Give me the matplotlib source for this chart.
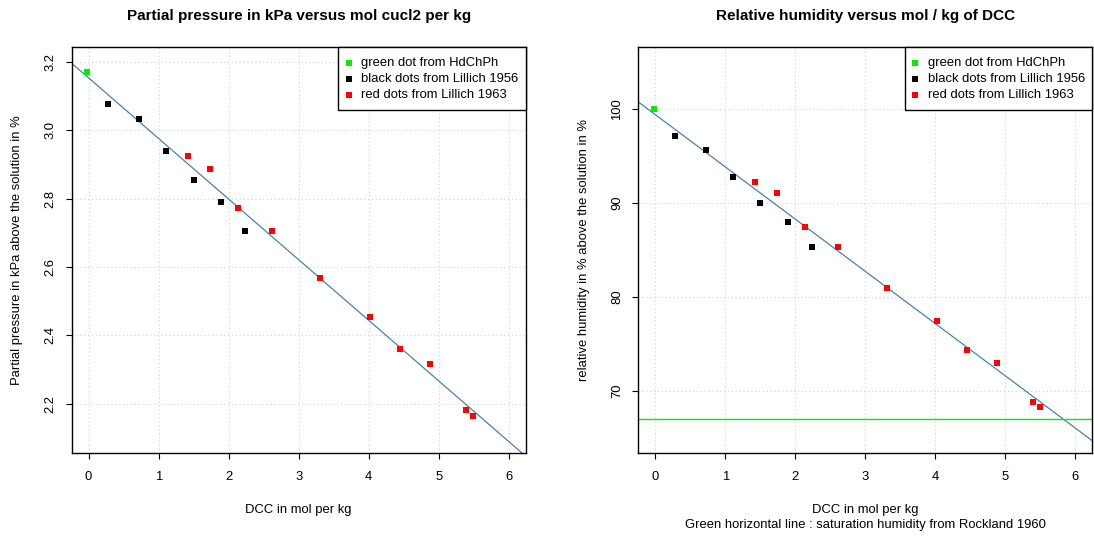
import matplotlib
matplotlib.use("Agg")
import matplotlib.pyplot as plt
from matplotlib.lines import Line2D
from matplotlib.patches import Rectangle

plt.rcParams['font.family'] = ['Liberation Sans', 'DejaVu Sans']

# ---- data ----
green_x = [-0.02]
green_p = [3.171]
green_rh = [100.0]

black_x = [0.285, 0.72, 1.11, 1.50, 1.893, 2.24]
black_p = [3.077, 3.033, 2.940, 2.853, 2.789, 2.704]
black_rh = [97.06, 95.64, 92.77, 90.0, 87.98, 85.28]

red_x = [1.42, 1.74, 2.135, 2.613, 3.305, 4.023, 4.452, 4.88, 5.393, 5.493]
red_p = [2.925, 2.886, 2.772, 2.704, 2.568, 2.455, 2.359, 2.316, 2.1815, 2.165]
red_rh = [92.23, 91.03, 87.45, 85.28, 80.96, 77.41, 74.40, 73.01, 68.79, 68.26]

fit_p = (3.153, -0.1773)      # intercept, slope
fit_rh = (99.39, -5.559)
saturation_rh = 67.0

xticks = [0, 1, 2, 3, 4, 5, 6]
yticks_p = [2.2, 2.4, 2.6, 2.8, 3.0, 3.2]
yticks_rh = [70, 80, 90, 100]

legend_labels = ["green dot from HdChPh", "black dots from Lillich 1956", "red dots from Lillich 1963"]

W, H = 1094, 536
fig = plt.figure(figsize=(W / 100, H / 100), dpi=100)

def px_axes(x0, y0, x1, y1):
    return fig.add_axes([x0 / W, 1 - y1 / H, (x1 - x0) / W, (y1 - y0) / H])

def ftext(x, y, s, ha='center', **kw):
    fig.text(x / W, 1 - y / H, s, ha=ha, va='center', **kw)

LINE_COL = '#4682B4'
GREEN = '#00EE00'
RED = '#FF0000'
fs = 9.4
RECT = [(-0.4, -0.5), (0.4, -0.5), (0.4, 0.5), (-0.4, 0.5), (-0.4, -0.5)]

def setup(ax, yticks, ylim, ytick_fmt):
    ax.set_xlim(-0.24, 6.24)
    r = ylim[1] - ylim[0]
    ax.set_ylim(ylim[0] - 0.04 * r, ylim[1] + 0.04 * r)
    ax.set_xticks(xticks)
    ax.set_xticklabels([str(t) for t in xticks])
    ax.set_yticks(yticks)
    ax.set_yticklabels([ytick_fmt(t) for t in yticks], rotation=90, va='center')
    ax.tick_params(direction='out', length=4, width=0.8, labelsize=fs, pad=9)
    ax.tick_params(axis='y', pad=7)
    ax.grid(True, color='#d3d3d3', linestyle=(0, (1, 2.5)), linewidth=0.8)
    ax.set_axisbelow(True)
    for s in ax.spines.values():
        s.set_linewidth(1.0)
        s.set_zorder(5)

def draw(ax, gy, by, ry, fit):
    xs = [-0.24, 6.24]
    ax.plot(xs, [fit[0] + fit[1] * x for x in xs], color=LINE_COL, lw=0.9, zorder=2)
    ms = 5.0
    ax.plot(green_x, gy, ls='', marker=RECT, color=GREEN, ms=ms, zorder=3, mew=0)
    ax.plot(black_x, by, ls='', marker=RECT, color='black', ms=ms, zorder=3, mew=0)
    ax.plot(red_x, ry, ls='', marker=RECT, color=RED, ms=ms, zorder=3, mew=0)

def legend(box_x0, box_x1, mark_x, text_x):
    y0, y1 = 46.7, 110
    fig.patches.append(Rectangle((box_x0 / W, 1 - y1 / H), (box_x1 - box_x0) / W,
                                 (y1 - y0) / H, transform=fig.transFigure,
                                 facecolor='white', edgecolor='black', lw=1.0, zorder=10))
    rows = [63.3, 78.7, 94.7]
    for yy, c, lab in zip(rows, (GREEN, 'black', RED), legend_labels):
        fig.add_artist(Line2D([mark_x / W], [1 - yy / H], marker=RECT, color=c, ls='',
                              ms=4.6, mew=0, transform=fig.transFigure, zorder=11))
        fig.text(text_x / W, 1 - yy / H, lab, ha='left', va='center', fontsize=fs, zorder=11)

ax1 = px_axes(71.7, 46.7, 525.7, 453)
setup(ax1, yticks_p, (2.1, 3.2), lambda t: f"{t:.1f}")
draw(ax1, green_p, black_p, red_p, fit_p)
legend(337.7, 525.7, 348.7, 361)

ax2 = px_axes(638.3, 46.7, 1092.3, 453)
setup(ax2, yticks_rh, (65, 105), lambda t: f"{t:d}")
draw(ax2, green_rh, black_rh, red_rh, fit_rh)
ax2.axhline(saturation_rh, color=GREEN, lw=1.0, zorder=2)
legend(905, 1092.3, 915.3, 928.3)

ftext(298.7, 16, "Partial pressure in kPa versus mol cucl2 per kg", fontsize=11, fontweight='bold')
ftext(865.3, 16, "Relative humidity versus mol / kg of DCC", fontsize=11, fontweight='bold')
ftext(298.7, 510, "DCC in mol per kg", fontsize=fs)
ftext(865.3, 510, "DCC in mol per kg", fontsize=fs)
ftext(865.3, 525, "Green horizontal line : saturation humidity from Rockland 1960", fontsize=fs)
ftext(17, 250, "Partial pressure in kPa above the solution in %", fontsize=fs, rotation=90)
ftext(584, 250, "relative humidity in % above the solution in %", fontsize=fs, rotation=90)

fig.savefig("out.png", dpi=100)
